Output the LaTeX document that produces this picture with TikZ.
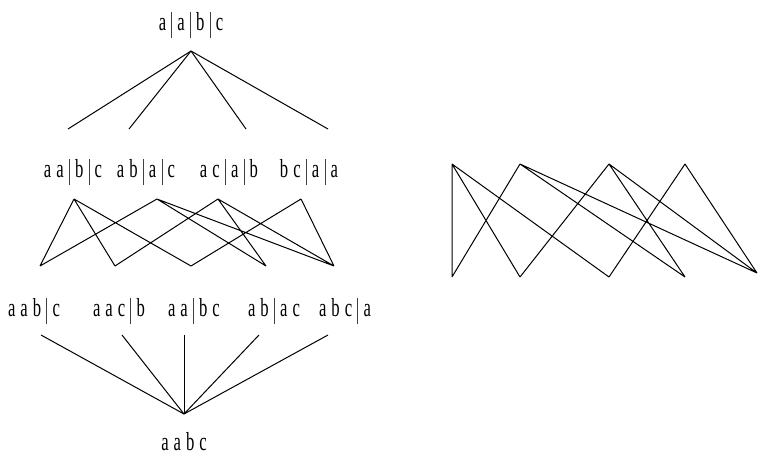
\documentclass[tikz,border=0pt]{standalone}
\usepackage{fontspec}
\newfontfamily\tf[FakeStretch=0.64]{Liberation Serif}
\newcommand\lblfont{\tf\fontsize{26}{30}\selectfont\spaceskip=5pt plus 0pt minus 0pt\relax}
\newcommand\sepbar{\hspace{5.2pt}\textcolor{black!75}{\rule[-8pt]{0.9pt}{26pt}}\hspace{5.2pt}}
\begin{document}
\begin{tikzpicture}[x=1pt,y=-1pt,
  lbl/.style={inner sep=0pt,anchor=base,font=\lblfont},
  edge/.style={line width=1pt,black}]
\useasboundingbox (0,0) rectangle (758,456);
% top
\node[lbl] (top) at (191,30) {a\sepbar a\sepbar b\sepbar c};
\coordinate (ta) at (191,51);
\coordinate (t1) at (68,129);
\coordinate (t2) at (129,129);
\coordinate (t3) at (246,129);
\coordinate (t4) at (328,129);
\foreach \i in {1,...,4} \draw[edge] (ta) -- (t\i);
% middle labels
\node[lbl] (m1) at (73,177) {a a\sepbar b\sepbar c};
\node[lbl] (m2) at (146,177) {a b\sepbar a\sepbar c};
\node[lbl] (m3) at (229,177) {a c\sepbar a\sepbar b};
\node[lbl] (m4) at (309,177) {b c\sepbar a\sepbar a};
% middle lattice
\coordinate (u1) at (74,199);
\coordinate (u2) at (157,199);
\coordinate (u3) at (218,199);
\coordinate (u4) at (301,199);
\coordinate (v1) at (40,266);
\coordinate (v2) at (115,266);
\coordinate (v3) at (191,266);
\coordinate (v4) at (266,266);
\coordinate (v5) at (334,266);
\draw[edge] (u1) -- (v1) (u1) -- (v2) (u1) -- (v3)
  (u2) -- (v1) (u2) -- (v4) (u2) -- (v5)
  (u3) -- (v2) (u3) -- (v4) (u3) -- (v5)
  (u4) -- (v3) (u4) -- (v5);
% bottom labels
\node[lbl] (b1) at (34,316) {a a b\sepbar c};
\node[lbl] (b2) at (119,316) {a a c\sepbar b};
\node[lbl] (b3) at (194,316) {a a\sepbar b c};
\node[lbl] (b4) at (274,316) {a b\sepbar a c};
\node[lbl] (b5) at (345,316) {a b c\sepbar a};
\coordinate (ba) at (184,414);
\coordinate (w1) at (41,335);
\coordinate (w2) at (122,335);
\coordinate (w3) at (184,335);
\coordinate (w4) at (259,335);
\coordinate (w5) at (328,335);
\foreach \i in {1,...,5} \draw[edge] (ba) -- (w\i);
\node[lbl] (bot) at (184,450) {a a b c};
% right figure
\coordinate (r1) at (452,164);
\coordinate (r2) at (520,164);
\coordinate (r3) at (609,164);
\coordinate (r4) at (685,164);
\coordinate (s1) at (452,277);
\coordinate (s2) at (520,277);
\coordinate (s3) at (609,277);
\coordinate (s4) at (685,277);
\coordinate (s5) at (757,273);
\draw[edge] (r1) -- (s1) (r1) -- (s2) (r1) -- (s3)
  (r2) -- (s1) (r2) -- (s4) (r2) -- (s5)
  (r3) -- (s2) (r3) -- (s4) (r3) -- (s5)
  (r4) -- (s3) (r4) -- (s5);
\end{tikzpicture}
\end{document}
